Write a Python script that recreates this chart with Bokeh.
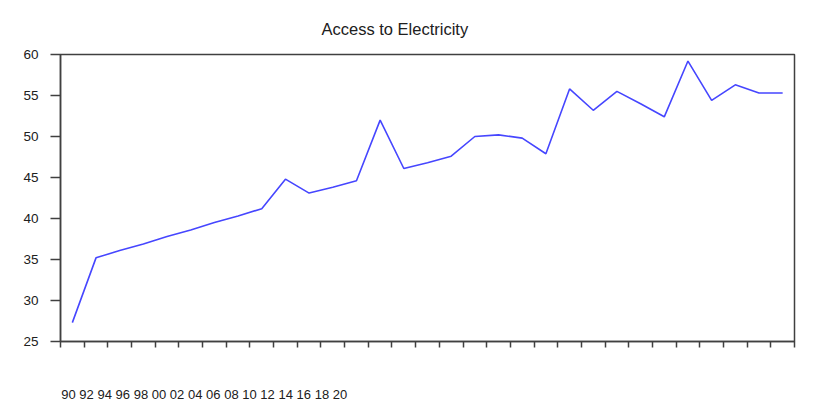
from bokeh.plotting import figure
from bokeh.models import Range1d, FixedTicker, CustomJSTickFormatter, LinearAxis
from bokeh.embed import file_html
from bokeh.resources import INLINE

# ---- data ----
title_text = "Access to Electricity"
access_values = [27.3, 35.2, 36.1, 36.9, 37.8, 38.6, 39.5, 40.3, 41.2, 44.8,
                 43.1, 43.8, 44.6, 52.0, 46.1, 46.8, 47.6, 50.0, 50.2, 49.8,
                 47.9, 55.8, 53.2, 55.5, 54.0, 52.4, 59.2, 54.4, 56.3, 55.3,
                 55.3]
x_tick_labels = ["90", "92", "94", "96", "98", "00", "02", "04", "06", "08",
                 "10", "12", "14", "16", "18", "20"]
y_ticks = [25, 30, 35, 40, 45, 50, 55, 60]

n = len(access_values)
idx = list(range(n))

FONT = "Liberation Sans"
FRAME = "#404040"
TEXT = "#202020"

p = figure(width=817, height=412, output_backend="svg", toolbar_location=None,
           x_range=Range1d(-0.5, n - 0.5), y_range=Range1d(y_ticks[0], y_ticks[-1]),
           min_border_left=60, min_border_right=23, min_border_top=54,
           min_border_bottom=71)

p.line(idx, access_values, line_color="#4646FF", line_width=1.6)

# title
p.title.text = title_text
p.title.text_font = FONT
p.title.text_font_size = "16.5px"
p.title.text_font_style = "normal"
p.title.text_color = TEXT
p.title.align = "left"
p.title.offset = 261
p.title.standoff = 33

# grid / outline
p.xgrid.visible = False
p.ygrid.visible = False
p.outline_line_color = FRAME
p.outline_line_width = 1.5
p.background_fill_color = "white"
p.border_fill_color = "white"

# y axis
ya = p.yaxis[0]
ya.ticker = FixedTicker(ticks=y_ticks)
ya.major_tick_out = 10
ya.major_tick_in = 0
ya.minor_tick_out = 0
ya.minor_tick_in = 0
ya.axis_line_color = FRAME
ya.axis_line_width = 1.5
ya.major_tick_line_color = FRAME
ya.major_tick_line_width = 1.5
ya.major_label_text_font = FONT
ya.major_label_text_font_size = "13.5px"
ya.major_label_text_color = TEXT
ya.major_label_text_baseline = "alphabetic"
ya.major_label_standoff = 12

# x axis: boundary ticks only
xa = p.xaxis[0]
xa.ticker = FixedTicker(ticks=[i - 0.5 for i in range(n + 1)])
xa.formatter = CustomJSTickFormatter(code="return ''")
xa.major_tick_out = 6
xa.major_tick_in = 0
xa.minor_tick_out = 0
xa.minor_tick_in = 0
xa.axis_line_color = FRAME
xa.axis_line_width = 1.5
xa.major_tick_line_color = FRAME
xa.major_tick_line_width = 1.5

# compressed year labels, as drawn in the reference, on their own axis
label_slot = 18.1  # px per label
frame_w = 817 - 60 - 23
p.extra_x_ranges = {"years": Range1d(-8 / label_slot, (frame_w - 8) / label_slot)}
la = LinearAxis(x_range_name="years",
                ticker=FixedTicker(ticks=list(range(len(x_tick_labels)))),
                major_label_overrides={i: t for i, t in enumerate(x_tick_labels)})
la.axis_line_color = None
la.major_tick_line_color = None
la.minor_tick_line_color = None
la.major_tick_out = 0
la.major_tick_in = 0
la.major_label_text_font = FONT
la.major_label_text_font_size = "13px"
la.major_label_text_color = TEXT
la.major_label_standoff = 42
p.add_layout(la, "below")

open("out.html", "w").write(file_html(p, INLINE))
